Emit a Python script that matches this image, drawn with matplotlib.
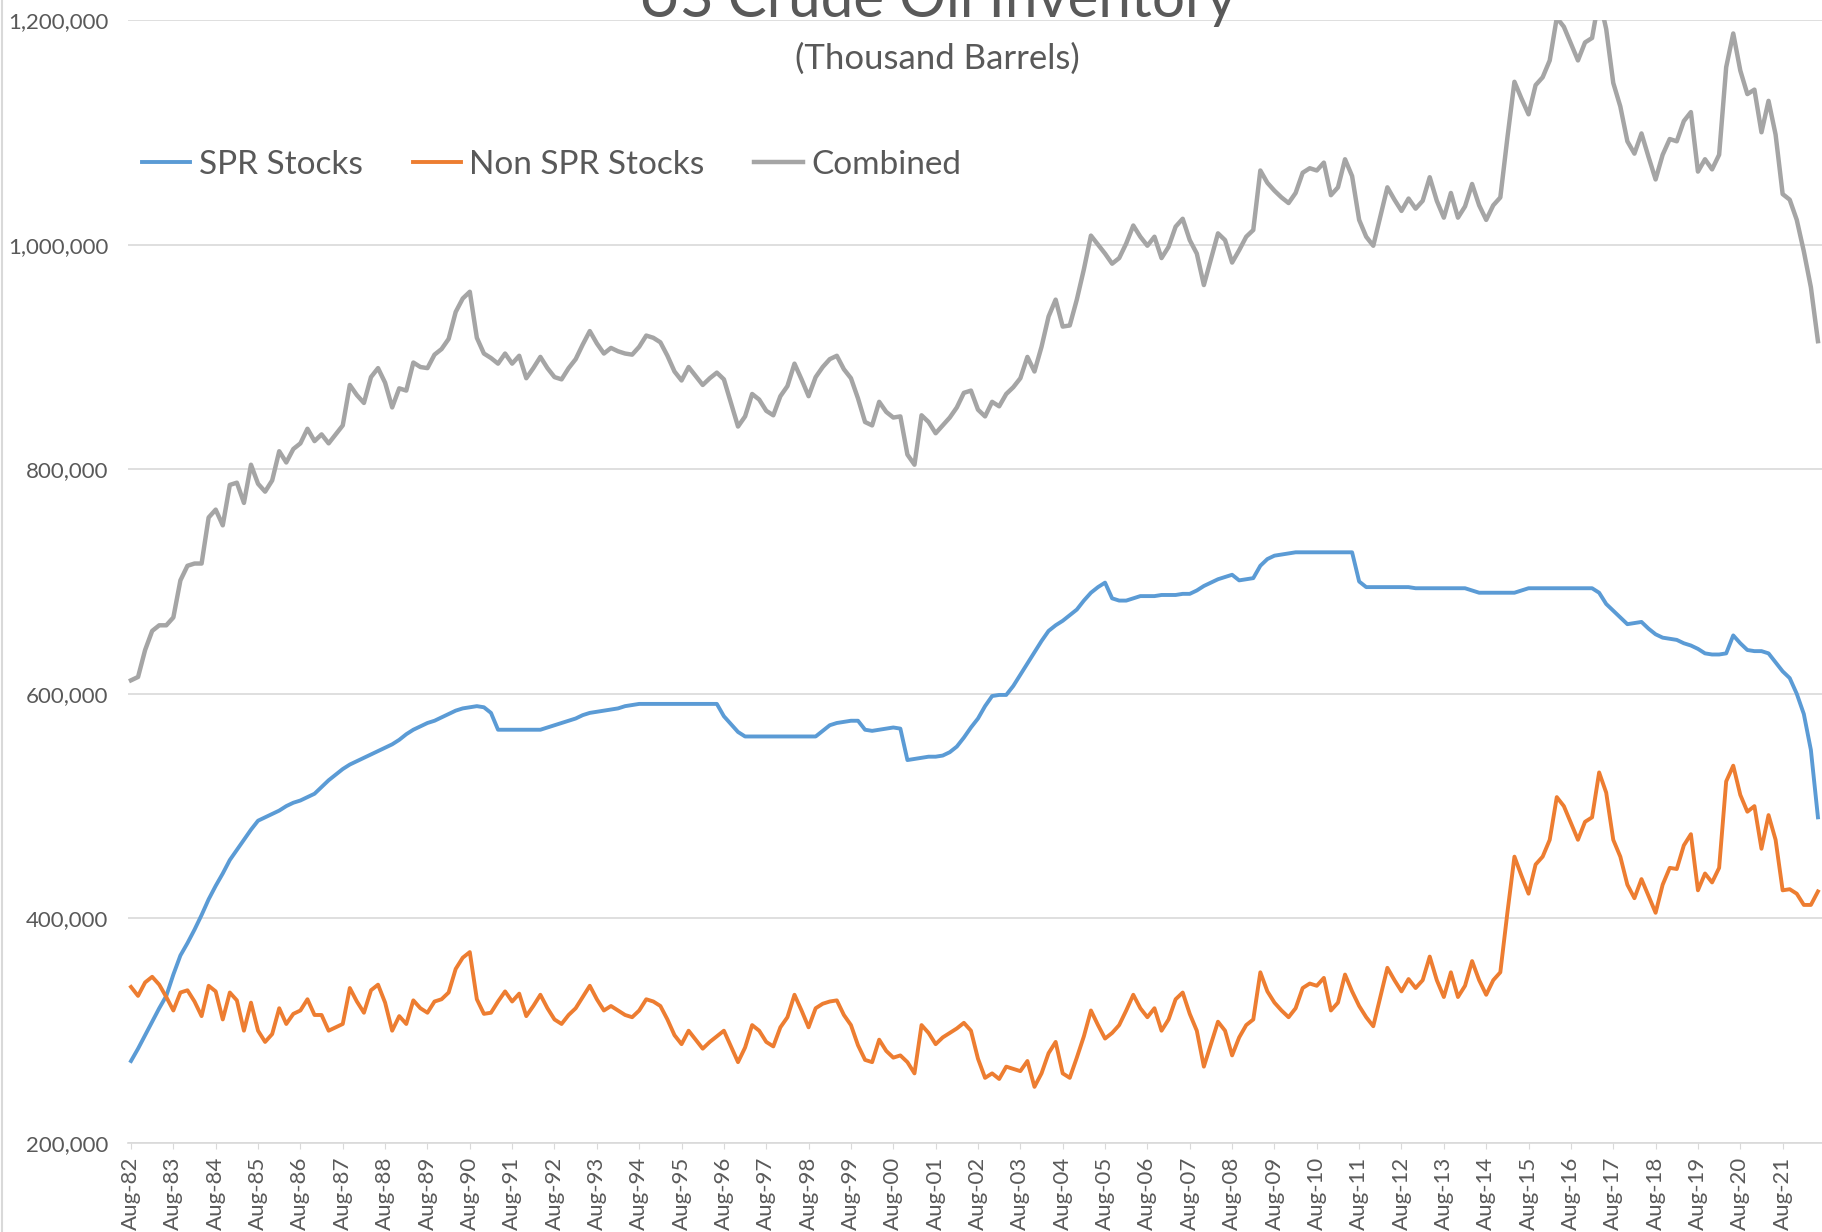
import pandas as pd
import matplotlib
matplotlib.use("Agg")
import matplotlib.pyplot as plt
from matplotlib.lines import Line2D
from matplotlib.ticker import FuncFormatter

# Bi-monthly readings (Aug, Oct, Dec, Feb, Apr, Jun), one row per Aug-to-Jun year
dates = pd.date_range("1982-08-01", periods=240, freq="2MS")

# Non SPR stocks (thousand barrels, in thousands)
non_spr = [
    339, 331, 343, 348, 341, 330,   # Aug-82
    318, 334, 336, 326, 313, 340,
    335, 310, 334, 327, 300, 325,
    300, 290, 297, 320, 306, 315,   # Aug-85
    318, 328, 314, 314, 300, 303,
    306, 338, 326, 316, 336, 341,
    325, 300, 313, 306, 327, 320,
    316, 326, 328, 334, 355, 365,
    370, 328, 315, 316, 326, 335,   # Aug-90
    326, 333, 313, 322, 332, 320,
    310, 306, 314, 320, 330, 340,
    328, 318, 322, 318, 314, 312,
    318, 328, 326, 322, 310, 296,
    288, 300, 292, 284, 290, 295,   # Aug-95
    300, 286, 272, 285, 305, 300,
    290, 286, 303, 312, 332, 318,
    303, 320, 324, 326, 327, 314,
    305, 287, 274, 272, 292, 282,
    276, 278, 272, 262, 305, 298,   # Aug-00
    288, 294, 298, 302, 307, 300,
    275, 258, 262, 257, 268, 266,
    264, 273, 250, 262, 280, 290,
    262, 258, 276, 295, 318, 305,
    293, 298, 305, 318, 332, 320,   # Aug-05
    312, 320, 300, 310, 328, 334,
    315, 300, 268, 288, 308, 300,
    278, 294, 305, 310, 352, 335,
    325, 318, 312, 320, 338, 342,
    340, 347, 318, 325, 350, 335,   # Aug-10
    322, 312, 304, 330, 356, 345,
    335, 346, 338, 345, 366, 345,
    330, 352, 330, 340, 362, 345,
    332, 345, 352, 405, 455, 438,
    422, 448, 455, 470, 508, 500,   # Aug-15
    485, 470, 486, 490, 530, 512,
    470, 455, 430, 418, 435, 420,
    405, 430, 445, 444, 465, 475,
    425, 440, 432, 445, 522, 536,
    510, 495, 500, 462, 492, 470,   # Aug-20
    425, 426, 422, 412, 412, 424,
]

# SPR stocks
spr = [
    273, 284, 296, 308, 320, 331,   # Aug-82
    350, 367, 378, 390, 403, 417,
    429, 440, 452, 461, 470, 479,
    487, 490, 493, 496, 500, 503,   # Aug-85
    505, 508, 511, 517, 523, 528,
    533, 537, 540, 543, 546, 549,
    552, 555, 559, 564, 568, 571,
    574, 576, 579, 582, 585, 587,
    588, 589, 588, 583, 568, 568,   # Aug-90
    568, 568, 568, 568, 568, 570,
    572, 574, 576, 578, 581, 583,
    584, 585, 586, 587, 589, 590,
    591, 591, 591, 591, 591, 591,
    591, 591, 591, 591, 591, 591,   # Aug-95
    580, 573, 566, 562, 562, 562,
    562, 562, 562, 562, 562, 562,
    562, 562, 567, 572, 574, 575,
    576, 576, 568, 567, 568, 569,
    570, 569, 541, 542, 543, 544,   # Aug-00
    544, 545, 548, 553, 561, 570,
    578, 589, 598, 599, 599, 607,
    617, 627, 637, 647, 656, 661,
    665, 670, 675, 683, 690, 695,
    699, 685, 683, 683, 685, 687,   # Aug-05
    687, 687, 688, 688, 688, 689,
    689, 692, 696, 699, 702, 704,
    706, 701, 702, 703, 714, 720,
    723, 724, 725, 726, 726, 726,
    726, 726, 726, 726, 726, 726,   # Aug-10
    700, 695, 695, 695, 695, 695,
    695, 695, 694, 694, 694, 694,
    694, 694, 694, 694, 692, 690,
    690, 690, 690, 690, 690, 692,
    694, 694, 694, 694, 694, 694,   # Aug-15
    694, 694, 694, 694, 690, 680,
    674, 668, 662, 663, 664, 658,
    653, 650, 649, 648, 645, 643,
    640, 636, 635, 635, 636, 652,
    645, 639, 638, 638, 636, 628,   # Aug-20
    620, 614, 600, 582, 550, 490,
]

tick_years = list(range(1982, 2022))
tick_labels = ["Aug-%02d" % (y % 100) for y in tick_years]

# Build the frame (values in thousand barrels)
df = pd.DataFrame({"date": dates, "SPR Stocks": spr, "Non SPR Stocks": non_spr})
df["SPR Stocks"] = df["SPR Stocks"] * 1000
df["Non SPR Stocks"] = df["Non SPR Stocks"] * 1000
df["Combined"] = df["SPR Stocks"] + df["Non SPR Stocks"]
df["t"] = df["date"].dt.year + (df["date"].dt.month - 1) / 12

plt.rcParams["font.family"] = ["Lato", "DejaVu Sans"]
text_color = "#595959"
grid_color = "#D9D9D9"

W, H = 1822, 1232
fig = plt.figure(figsize=(W / 100, H / 100), dpi=100)
ax = fig.add_axes([128 / W, (H - 1143) / H, 1 - 128 / W, (1143 - 20) / H])

x0 = 1982 + 7 / 12
ax.plot(df["t"], df["SPR Stocks"], color="#5B9BD5", lw=2.8, label="SPR Stocks")
ax.plot(df["t"], df["Non SPR Stocks"], color="#ED7D31", lw=2.8, label="Non SPR Stocks")
ax.plot(df["t"], df["Combined"], color="#A5A5A5", lw=3.2, label="Combined")

ax.set_xlim(x0 - 3 / 42.35, x0 + (W - 131) / 42.35)
ax.set_ylim(200000, 1200000)
ax.set_yticks(range(200000, 1200001, 200000))
ax.yaxis.set_major_formatter(FuncFormatter(lambda v, p: f"{int(v):,}"))
ax.set_xticks([y + 7 / 12 for y in tick_years])
ax.set_xticklabels(tick_labels, rotation=90)

ax.grid(axis="y", color=grid_color, lw=1.2)
ax.set_axisbelow(True)
for side in ["top", "right", "left"]:
    ax.spines[side].set_visible(False)
ax.spines["bottom"].set_color(grid_color)
ax.spines["bottom"].set_linewidth(1.2)
ax.tick_params(axis="y", length=0, pad=14, labelsize=16, labelcolor=text_color)
ax.tick_params(axis="x", length=4, color=grid_color, pad=6, labelsize=16, labelcolor=text_color)

# Title runs off the top of the picture, like the reference
fig.text(937 / W, 1 - 17 / H, "US Crude Oil Inventory", ha="center", va="baseline",
         fontsize=42, color=text_color)
fig.text(937 / W, 1 - 59 / H, "(Thousand Barrels)", ha="center", va="center",
         fontsize=25, color=text_color)

ax.legend(loc="center left", bbox_to_anchor=(142 / W, 1 - 165 / H),
          bbox_transform=fig.transFigure, ncol=3, frameon=False, fontsize=24,
          labelcolor=text_color, handlelength=1.45, handletextpad=0.25,
          columnspacing=1.5, borderpad=0, borderaxespad=0)

# thin chart border on the left edge
fig.add_artist(Line2D([1.5 / W, 1.5 / W], [0, 1], transform=fig.transFigure,
                      color=grid_color, lw=1.5))

fig.savefig("out.png", dpi=100)
